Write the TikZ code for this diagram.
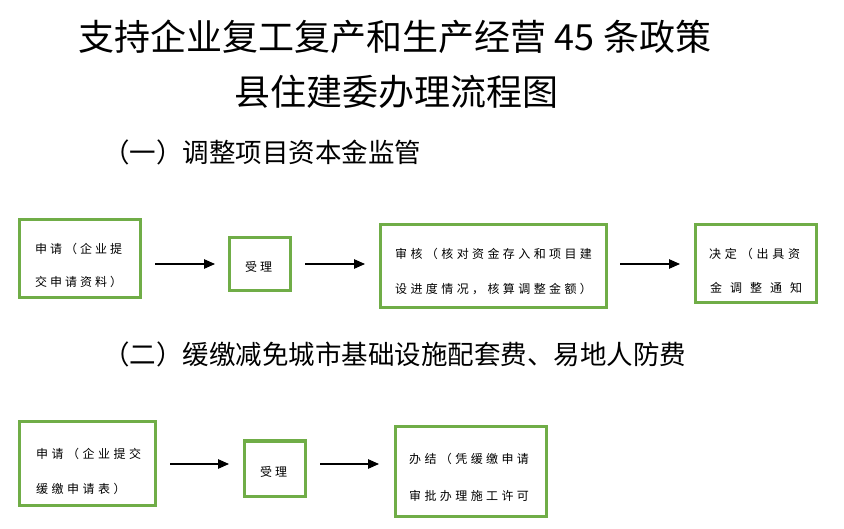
\documentclass[tikz,border=0pt]{standalone}
\usepackage{fontspec}
\setmainfont{Noto Sans CJK SC}
\usetikzlibrary{arrows.meta}
\definecolor{boxgreen}{RGB}{112,173,71}
\newdimen\spgap
\def\spaced#1#2{\spgap=#1\relax\spacedA#2\relax}
\def\spacedA#1{\ifx\relax#1\else#1\kern\spgap\expandafter\spacedA\fi}
\tikzset{
  gbox/.style={draw=boxgreen, line width=3pt, inner sep=0pt, outer sep=0pt},
  btxt/.style={anchor=west, inner sep=0pt, font=\fontsize{12}{14}\selectfont},
  arr/.style={-{Triangle[length=11pt,width=9.5pt]}, line width=1.1pt},
  ttl/.style={font=\fontsize{36}{40}\selectfont, inner sep=0pt},
  subttl/.style={font=\fontsize{26.5}{30}\selectfont, anchor=west, inner sep=0pt}
}
\begin{document}
\begin{tikzpicture}[x=1pt,y=-1pt]
\fill[white] (0,0) rectangle (844,529);
\useasboundingbox (0,0) rectangle (844,529);
% titles
\node[ttl] (t1) at (395,37) {支持企业复工复产和生产经营 45 条政策};
\node[ttl] (t2) at (396,92) {县住建委办理流程图};
\node[subttl] (s1) at (103,152) {（一）调整项目资本金监管};
\node[subttl] (s2) at (103,354) {（二）缓缴减免城市基础设施配套费、易地人防费};
% row 1 boxes
\node[gbox, minimum width=121pt, minimum height=78pt] (b1) at (79.5,259) {};
\node[gbox, minimum width=61pt, minimum height=53pt] (b2) at (259.5,264.5) {};
\node[gbox, minimum width=226pt, minimum height=83pt] (b3) at (493,266.5) {};
\node[gbox, minimum width=121pt, minimum height=78pt] (b4) at (755.5,264) {};
\node[btxt] (b1l1) at (35,249) {\spaced{3pt}{申请（企业提}};
\node[btxt] (b1l2) at (35,282) {\spaced{3pt}{交申请资料）}};
\node[btxt] (b2l1) at (245,267) {\spaced{3pt}{受理}};
\node[btxt] (b3l1) at (395,254) {\spaced{3.4pt}{审核（核对资金存入和项目建}};
\node[btxt] (b3l2) at (395,289) {\spaced{3.4pt}{设进度情况，核算调整金额）}};
\node[btxt] (b4l1) at (709,254) {\spaced{3.8pt}{决定（出具资}};
\node[btxt] (b4l2) at (710,288) {\spaced{8pt}{金调整通知}};
% row 2 boxes
\node[gbox, minimum width=136pt, minimum height=83pt] (b5) at (87,463.5) {};
\node[gbox, minimum width=61pt, minimum height=55pt] (b6) at (274.5,468.5) {};
\node[gbox, minimum width=151pt, minimum height=89pt] (b7) at (470.5,471.5) {};
\node[btxt] (b5l1) at (36,454) {\spaced{3.5pt}{申请（企业提交}};
\node[btxt] (b5l2) at (36,489) {\spaced{3.5pt}{缓缴申请表）}};
\node[btxt] (b6l1) at (260,472) {\spaced{3pt}{受理}};
\node[btxt] (b7l1) at (409,459) {\spaced{3.4pt}{办结（凭缓缴申请}};
\node[btxt] (b7l2) at (409,496) {\spaced{3.4pt}{审批办理施工许可}};
% arrows
\coordinate (a1s) at (155,264); \coordinate (a1e) at (215,264);
\coordinate (a2s) at (305,264); \coordinate (a2e) at (365,264);
\coordinate (a3s) at (620,264); \coordinate (a3e) at (680,264);
\coordinate (a4s) at (170,464); \coordinate (a4e) at (229,464);
\coordinate (a5s) at (320,464); \coordinate (a5e) at (379,464);
\draw[arr] (a1s) -- (a1e);
\draw[arr] (a2s) -- (a2e);
\draw[arr] (a3s) -- (a3e);
\draw[arr] (a4s) -- (a4e);
\draw[arr] (a5s) -- (a5e);
\end{tikzpicture}
\end{document}
